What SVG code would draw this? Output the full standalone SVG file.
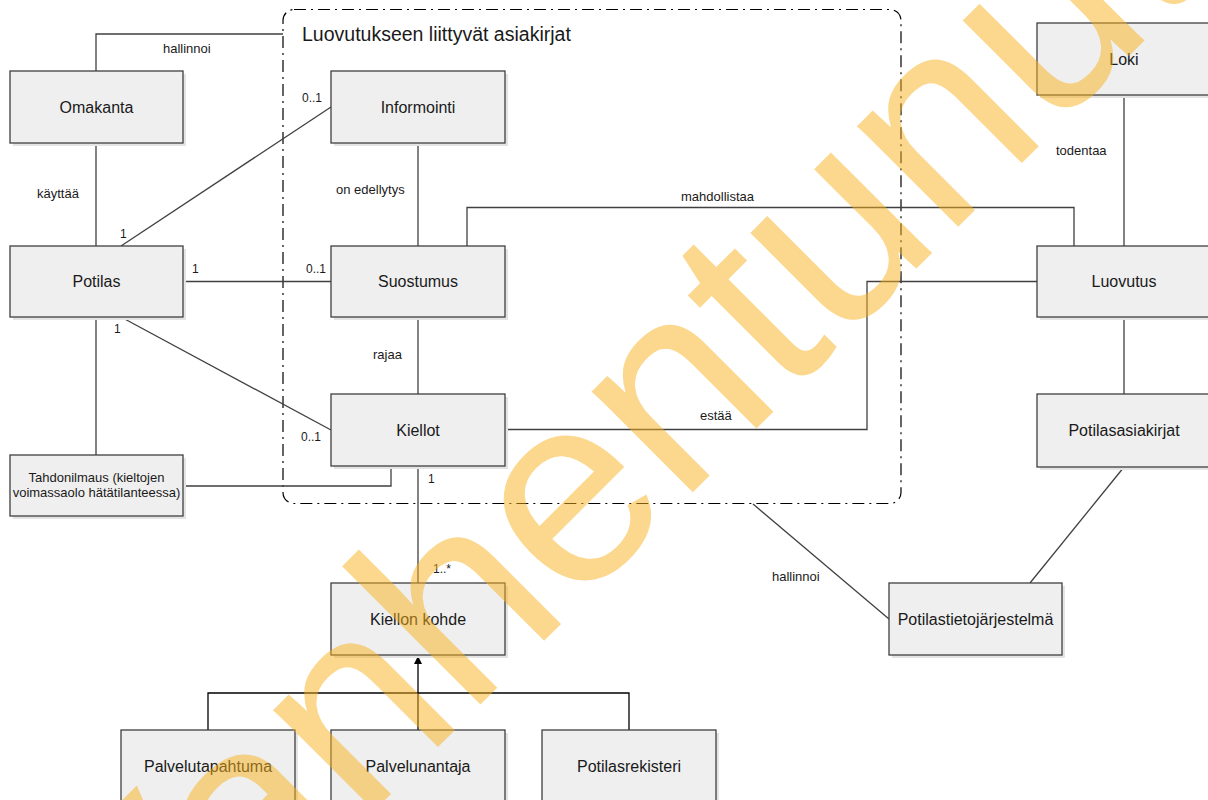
<svg xmlns="http://www.w3.org/2000/svg" width="1208" height="800" viewBox="0 0 1208 800">
<style>
.bg{fill:#ffffff}
.sh{fill:#e4e4e4}
.box{fill:#efefef;stroke:#3f3f3f;stroke-width:1.3}
.lbl{font-family:"Liberation Sans",Arial,sans-serif;font-size:16px;fill:#1a1a1a;text-anchor:middle}
.lbl13{font-family:"Liberation Sans",Arial,sans-serif;font-size:13px;fill:#1a1a1a;text-anchor:middle}
.rel{font-family:"Liberation Sans",Arial,sans-serif;font-size:13px;fill:#1a1a1a}
.mult{font-family:"Liberation Sans",Arial,sans-serif;font-size:12px;fill:#1a1a1a}
.conn{fill:none;stroke:#404040;stroke-width:1.3}
.gen{fill:none;stroke:#000000;stroke-width:1.3}
.grp{fill:none;stroke:#000000;stroke-width:1.2;stroke-dasharray:12,5,2,5}
.title{font-family:"Liberation Sans",Arial,sans-serif;font-size:19.5px;fill:#1a1a1a}
.wm{font-family:"Liberation Sans",Arial,sans-serif;font-size:270px;fill:#f9b21d;opacity:0.5}
</style>
<defs>
<marker id="tri" viewBox="0 0 10 10" refX="10" refY="5" markerWidth="8" markerHeight="9" markerUnits="userSpaceOnUse" orient="auto">
<path d="M0,0 L10,5 L0,10 Z" fill="#000000"/>
</marker>
</defs>
<rect class="bg" x="0" y="0" width="1208" height="800"/>

<g id="group-boundary">
<rect class="grp" x="283" y="9.5" width="618" height="494" rx="11"/>
<text class="title" x="302" y="41">Luovutukseen liittyvät asiakirjat</text>
</g>

<g id="connectors">
<polyline class="conn" points="96,71 96,34 283,34"/>
<line class="conn" x1="96" y1="143" x2="96" y2="246"/>
<line class="conn" x1="121" y1="246" x2="331" y2="107"/>
<line class="conn" x1="183" y1="281.5" x2="331" y2="281.5"/>
<line class="conn" x1="121" y1="317" x2="331" y2="430"/>
<line class="conn" x1="96" y1="317" x2="96" y2="455"/>
<polyline class="conn" points="183,486 391,486 391,466"/>
<line class="conn" x1="418" y1="143" x2="418" y2="246"/>
<polyline class="conn" points="467,246 467,207.5 1074,207.5 1074,246"/>
<line class="conn" x1="418" y1="317" x2="418" y2="394"/>
<polyline class="conn" points="505,429.5 867,429.5 867,281.5 1037,281.5"/>
<line class="conn" x1="418" y1="466" x2="418" y2="583"/>
<line class="conn" x1="1124" y1="95" x2="1124" y2="246"/>
<line class="conn" x1="1124" y1="317" x2="1124" y2="394"/>
<line class="conn" x1="1124" y1="467" x2="1030" y2="583"/>
<line class="conn" x1="753" y1="504" x2="889" y2="619"/>
<polyline class="gen" points="208,730 208,693 629,693 629,730"/>
<line class="gen" x1="418" y1="730" x2="418" y2="656" marker-end="url(#tri)"/>
<text class="rel" x="163" y="53">hallinnoi</text>
<text class="rel" x="37" y="198">käyttää</text>
<text class="rel" x="336" y="194">on edellytys</text>
<text class="rel" x="681" y="200.5">mahdollistaa</text>
<text class="rel" x="1056" y="155">todentaa</text>
<text class="rel" x="373" y="358.5">rajaa</text>
<text class="rel" x="700" y="420">estää</text>
<text class="rel" x="772" y="580.5">hallinnoi</text>
<text class="mult" x="302" y="102">0..1</text>
<text class="mult" x="120" y="238">1</text>
<text class="mult" x="192" y="273">1</text>
<text class="mult" x="306" y="273">0..1</text>
<text class="mult" x="114" y="333">1</text>
<text class="mult" x="301" y="441">0..1</text>
<text class="mult" x="428" y="483">1</text>
<text class="mult" x="433" y="573">1..*</text>
</g>

<g id="omakanta"><rect class="sh" x="13" y="74" width="173" height="72"/><rect class="box" x="10" y="71" width="173" height="72"/><text class="lbl" x="96.5" y="112.7">Omakanta</text></g>
<g id="potilas"><rect class="sh" x="13" y="249" width="173" height="71"/><rect class="box" x="10" y="246" width="173" height="71"/><text class="lbl" x="96.5" y="287.2">Potilas</text></g>
<g id="tahdonilmaus"><rect class="sh" x="13" y="458" width="173" height="61"/><rect class="box" x="10" y="455" width="173" height="61"/><text class="lbl13" x="96.5" y="481.5">Tahdonilmaus (kieltojen</text><text class="lbl13" x="96.5" y="496.5">voimassaolo hätätilanteessa)</text></g>
<g id="informointi"><rect class="sh" x="334" y="74" width="174" height="72"/><rect class="box" x="331" y="71" width="174" height="72"/><text class="lbl" x="418" y="112.7">Informointi</text></g>
<g id="suostumus"><rect class="sh" x="334" y="249" width="174" height="71"/><rect class="box" x="331" y="246" width="174" height="71"/><text class="lbl" x="418" y="287.2">Suostumus</text></g>
<g id="kiellot"><rect class="sh" x="334" y="397" width="174" height="72"/><rect class="box" x="331" y="394" width="174" height="72"/><text class="lbl" x="418" y="435.7">Kiellot</text></g>
<g id="kiellon-kohde"><rect class="sh" x="334" y="586" width="174" height="72"/><rect class="box" x="331" y="583" width="174" height="72"/><text class="lbl" x="418" y="624.7">Kiellon kohde</text></g>
<g id="palvelutapahtuma"><rect class="sh" x="124" y="733" width="174" height="72"/><rect class="box" x="121" y="730" width="174" height="72"/><text class="lbl" x="208" y="771.5">Palvelutapahtuma</text></g>
<g id="palvelunantaja"><rect class="sh" x="334" y="733" width="174" height="72"/><rect class="box" x="331" y="730" width="174" height="72"/><text class="lbl" x="418" y="771.5">Palvelunantaja</text></g>
<g id="potilasrekisteri"><rect class="sh" x="545" y="733" width="174" height="72"/><rect class="box" x="542" y="730" width="174" height="72"/><text class="lbl" x="629" y="771.5">Potilasrekisteri</text></g>
<g id="loki"><rect class="sh" x="1040" y="26" width="174" height="72"/><rect class="box" x="1037" y="23" width="174" height="72"/><text class="lbl" x="1124" y="64.5">Loki</text></g>
<g id="luovutus"><rect class="sh" x="1040" y="249" width="174" height="71"/><rect class="box" x="1037" y="246" width="174" height="71"/><text class="lbl" x="1124" y="287.2">Luovutus</text></g>
<g id="potilasasiakirjat"><rect class="sh" x="1040" y="397" width="174" height="73"/><rect class="box" x="1037" y="394" width="174" height="73"/><text class="lbl" x="1124" y="436.2">Potilasasiakirjat</text></g>
<g id="potilastietojarjestelma"><rect class="sh" x="892" y="586" width="173" height="72"/><rect class="box" x="889" y="583" width="173" height="72"/><text class="lbl" x="975.5" y="624.7">Potilastietojärjestelmä</text></g>

<text class="wm" transform="translate(141.7,1043.3) rotate(-45)" x="0" y="0">Vanhentunut</text>
</svg>
